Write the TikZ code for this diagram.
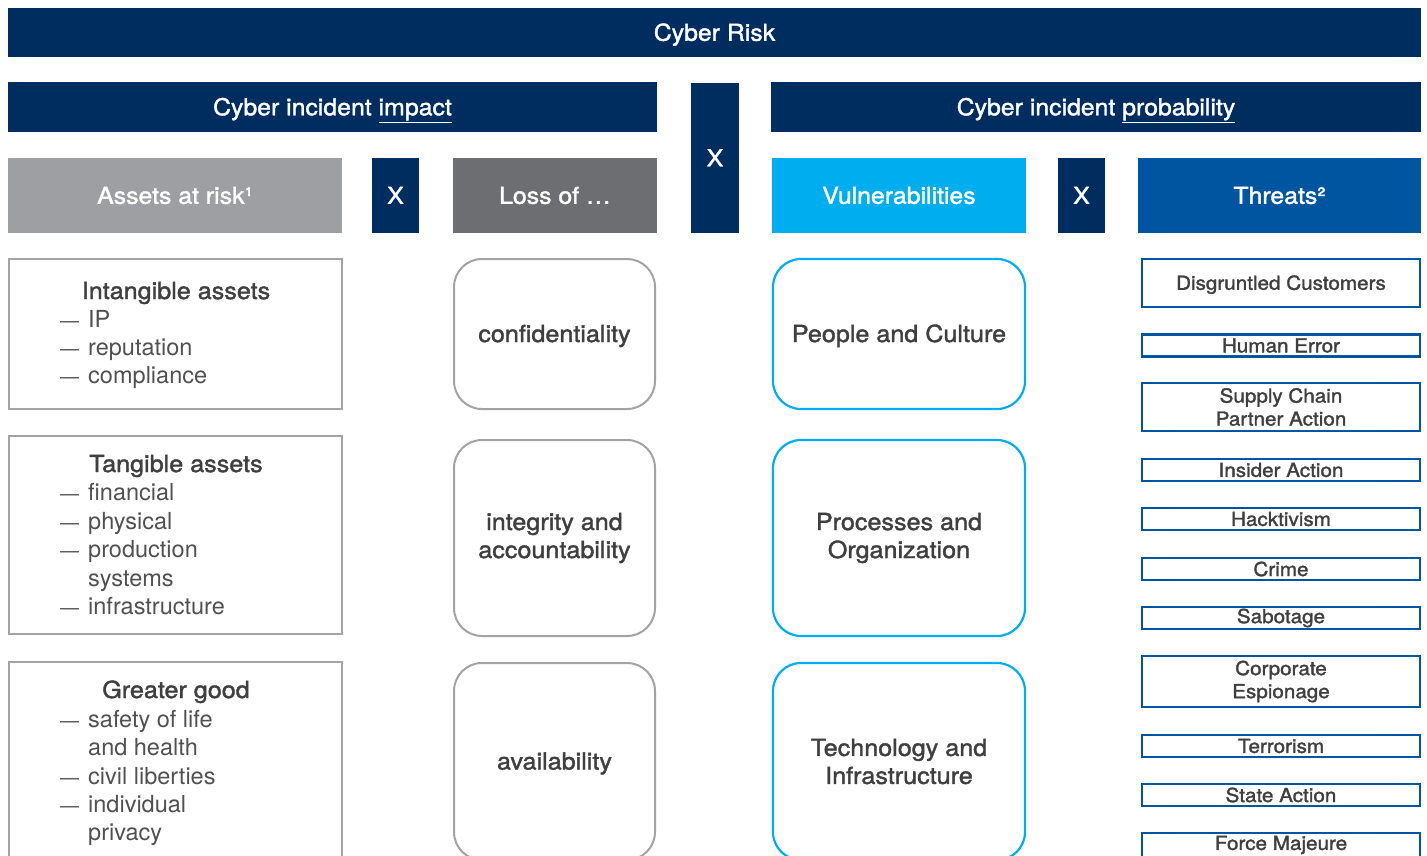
\documentclass[tikz,border=0pt]{standalone}
\usepackage{fontspec}
\setmainfont{TeX Gyre Heros}
\newfontfamily\medfont[FakeBold=1.6, FakeStretch=1.07]{TeX Gyre Heros}
\definecolor{navy}{HTML}{002D5F}
\definecolor{assetgray}{HTML}{9D9FA2}
\definecolor{lossgray}{HTML}{6D6E71}
\definecolor{cyanc}{HTML}{00AEEF}
\definecolor{tblue}{HTML}{0055A0}
\definecolor{boxgray}{HTML}{A3A3A3}
\definecolor{txtgray}{HTML}{3F3F3F}
\definecolor{listgray}{HTML}{505050}
\begin{document}
\begin{tikzpicture}[x=1pt,y=-1pt,
  hbar/.style={fill=#1, text=white, inner sep=0pt, outer sep=0pt, text height=16.5pt, text depth=0pt, font=\medfont\fontsize{23.2}{26}\selectfont},
  assetbox/.style={draw=boxgray, line width=2pt, inner sep=0pt},
  lossbox/.style={draw=boxgray, line width=2pt, rounded corners=28pt, inner sep=0pt, text=txtgray, align=center, font=\medfont\fontsize{23.5}{28}\selectfont},
  vulnbox/.style={draw=cyanc, line width=2.2pt, rounded corners=28pt, inner sep=0pt, text=txtgray, align=center, font=\medfont\fontsize{23.5}{28}\selectfont},
  oneline/.style={text height=16pt, text depth=0pt},
  threatbox/.style={draw=tblue, line width=2.5pt, inner sep=0pt, text=txtgray, align=center, font=\medfont\fontsize{19.3}{23}\selectfont},
  ahead/.style={text=txtgray, inner sep=0pt, anchor=base, font=\medfont\fontsize{23.5}{28}\selectfont},
  aitem/.style={text=listgray, inner sep=0pt, anchor=base west, font=\fontsize{23.5}{28}\selectfont},
  adash/.style={text=listgray, inner sep=0pt, anchor=base west, font=\fontsize{19}{28}\selectfont}
]
\useasboundingbox (0,0) rectangle (1427,855);
\clip (0,0) rectangle (1427,855);

% header bars
\node[hbar=navy, minimum width=1413pt, minimum height=49pt] (risk) at (714.5,32.5) {Cyber Risk};
\node[hbar=navy, minimum width=649pt, minimum height=50pt] (impact) at (332.5,107) {Cyber incident \underline{impact}};
\node[hbar=navy, minimum width=48pt, minimum height=150pt] (bigx) at (715,158) {X};
\node[hbar=navy, minimum width=650pt, minimum height=50pt] (prob) at (1096,107) {Cyber incident \underline{probability}};

\node[hbar=assetgray, minimum width=334pt, minimum height=75pt] (assets) at (175,195.5) {Assets at risk¹};
\node[hbar=navy, minimum width=47pt, minimum height=75pt] (x1) at (395.5,195.5) {X};
\node[hbar=lossgray, minimum width=204pt, minimum height=75pt] (loss) at (555,195.5) {Loss of \dots};
\node[hbar=cyanc, minimum width=254pt, minimum height=75pt] (vuln) at (899,195.5) {Vulnerabilities};
\node[hbar=navy, minimum width=47pt, minimum height=75pt] (x2) at (1081.5,195.5) {X};
\node[hbar=tblue, minimum width=283pt, minimum height=75pt] (threats) at (1279.5,195.5) {Threats²};

% asset boxes
\node[assetbox, minimum width=333pt, minimum height=150pt] (a1) at (175.5,334) {};
\node[assetbox, minimum width=333pt, minimum height=198pt] (a2) at (175.5,535) {};
\node[assetbox, minimum width=333pt, minimum height=198pt] (a3) at (175.5,761) {};

\node[ahead] (a1h) at (176,299) {Intangible assets};
\foreach \t [count=\i] in {IP,reputation,compliance}{
  \node[adash] (a1d\i) at (60,299+28*\i) {—};
  \node[aitem] (a1t\i) at (88,299+28*\i) {\t};
}
\node[ahead] (a2h) at (176,472) {Tangible assets};
\node[adash] (a2d1) at (60,500) {—};
\node[aitem] (a2t1) at (88,500) {financial};
\node[adash] (a2d2) at (60,529) {—};
\node[aitem] (a2t2) at (88,529) {physical};
\node[adash] (a2d3) at (60,557) {—};
\node[aitem] (a2t3) at (88,557) {production};
\node[aitem] (a2t4) at (88,586) {systems};
\node[adash] (a2d5) at (60,614) {—};
\node[aitem] (a2t5) at (88,614) {infrastructure};

\node[ahead] (a3h) at (176,698) {Greater good};
\node[adash] (a3d1) at (60,727) {—};
\node[aitem] (a3t1) at (88,727) {safety of life};
\node[aitem] (a3t2) at (88,755) {and health};
\node[adash] (a3d3) at (60,784) {—};
\node[aitem] (a3t3) at (88,784) {civil liberties};
\node[adash] (a3d4) at (60,812) {—};
\node[aitem] (a3t4) at (88,812) {individual};
\node[aitem] (a3t5) at (88,840) {privacy};

% loss boxes
\node[lossbox, oneline, minimum width=201pt, minimum height=150pt] (l1) at (554.5,334) {confidentiality};
\node[lossbox, minimum width=201pt, minimum height=196pt] (l2) at (554.5,538) {integrity and\\accountability};
\node[lossbox, oneline, minimum width=201pt, minimum height=197pt] (l3) at (554.5,761.5) {availability};

% vulnerability boxes
\node[vulnbox, oneline, minimum width=252pt, minimum height=150pt] (v1) at (899,334) {People and Culture};
\node[vulnbox, minimum width=252pt, minimum height=196pt] (v2) at (899,538) {Processes and\\Organization};
\node[vulnbox, minimum width=252pt, minimum height=197pt] (v3) at (899,761.5) {Technology and\\Infrastructure};

% threat boxes
\node[threatbox, text height=13.5pt, text depth=0pt, minimum width=278pt, minimum height=48pt] (t1) at (1281,283) {Disgruntled Customers};
\node[threatbox, minimum width=278pt, minimum height=22pt] (t2) at (1281,345.5) {Human Error};
\node[threatbox, minimum width=278pt, minimum height=48pt] (t3) at (1281,407) {Supply Chain\\Partner Action};
\node[threatbox, minimum width=278pt, minimum height=22pt] (t4) at (1281,470) {Insider Action};
\node[threatbox, minimum width=278pt, minimum height=22pt] (t5) at (1281,519) {Hacktivism};
\node[threatbox, minimum width=278pt, minimum height=22pt] (t6) at (1281,569) {Crime};
\node[threatbox, minimum width=278pt, minimum height=22pt] (t7) at (1281,618) {Sabotage};
\node[threatbox, minimum width=278pt, minimum height=51pt] (t8) at (1281,681.5) {Corporate\\Espionage};
\node[threatbox, minimum width=278pt, minimum height=22pt] (t9) at (1281,746) {Terrorism};
\node[threatbox, minimum width=278pt, minimum height=22pt] (t10) at (1281,795) {State Action};
\node[threatbox, minimum width=278pt, minimum height=24pt] (t11) at (1281,845) {Force Majeure};
\end{tikzpicture}
\end{document}
